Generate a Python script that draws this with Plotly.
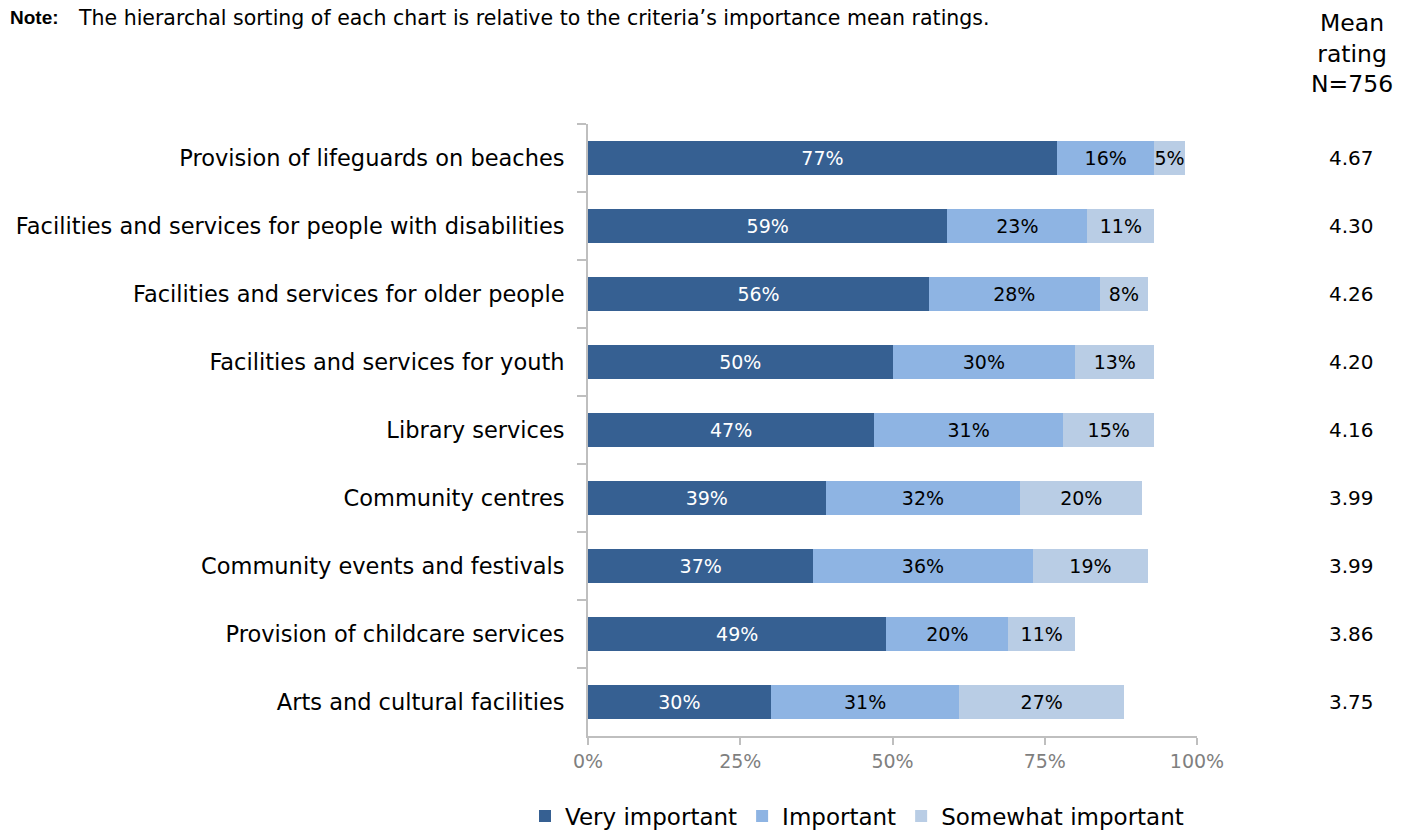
import plotly.graph_objects as go

categories = [
    "Provision of lifeguards on beaches",
    "Facilities and services for people with disabilities",
    "Facilities and services for older people",
    "Facilities and services for youth",
    "Library services",
    "Community centres",
    "Community events and festivals",
    "Provision of childcare services",
    "Arts and cultural facilities",
]
very_important = [77, 59, 56, 50, 47, 39, 37, 49, 30]
important = [16, 23, 28, 30, 31, 32, 36, 20, 31]
somewhat_important = [5, 11, 8, 13, 15, 20, 19, 11, 27]
mean_rating = [4.67, 4.30, 4.26, 4.20, 4.16, 3.99, 3.99, 3.86, 3.75]
x_ticks = [0, 25, 50, 75, 100]

FONT = "DejaVu Sans"
W, H = 1403, 830
L, R, T, B = 588, 206, 124, 94
PW, PH = W - L - R, H - T - B


def px_x(x):
    return (x - L) / PW


def px_y(y):
    return (H - B - y) / PH


series = [
    ("Very important", very_important, "#366092", "white"),
    ("Important", important, "#8EB4E3", "black"),
    ("Somewhat important", somewhat_important, "#B9CDE5", "black"),
]

fig = go.Figure()
for name, vals, color, tcolor in series:
    fig.add_trace(go.Bar(
        name=name,
        y=categories,
        x=vals,
        orientation="h",
        marker=dict(color=color, line=dict(width=0)),
        text=[f"{v}%" for v in vals],
        textposition="inside",
        insidetextanchor="middle",
        textangle=0,
        textfont=dict(family=FONT, size=19, color=tcolor),
        constraintext="none",
        cliponaxis=False,
    ))

# Mean rating column on the right
for cat, m in zip(categories, mean_rating):
    fig.add_annotation(
        x=px_x(1351), xref="paper", y=cat, yref="y",
        text=f"{m:.2f}", showarrow=False,
        font=dict(family=FONT, size=20, color="black"),
        xanchor="center", yanchor="middle",
    )

fig.add_annotation(
    x=px_x(1352), xref="paper", y=px_y(54), yref="paper",
    text="Mean<br>rating<br>N=756", showarrow=False, align="center",
    font=dict(family=FONT, size=23.5, color="black"),
    xanchor="center", yanchor="middle",
)

fig.add_annotation(
    x=px_x(8), xref="paper", y=px_y(18), yref="paper",
    text="<b>Note:</b>", showarrow=False,
    font=dict(family="Liberation Sans", size=19, color="black"),
    xanchor="left", yanchor="middle",
)
fig.add_annotation(
    x=px_x(76), xref="paper", y=px_y(18), yref="paper",
    text="The hierarchal sorting of each chart is relative to the criteria\u2019s importance mean ratings.",
    showarrow=False,
    font=dict(family=FONT, size=20.5, color="black"),
    xanchor="left", yanchor="middle",
)

fig.update_layout(
    width=W, height=H,
    margin=dict(l=L, r=R, t=T, b=B, autoexpand=False),
    barmode="stack",
    bargap=0.5,
    plot_bgcolor="white",
    paper_bgcolor="white",
    font=dict(family=FONT, color="black"),
    uniformtext=dict(mode=False),
    legend=dict(
        orientation="h", x=px_x(525), xanchor="left",
        y=px_y(816), yanchor="middle",
        font=dict(family=FONT, size=23, color="black"),
        traceorder="normal", itemwidth=30,
    ),
    showlegend=True,
)
fig.update_xaxes(
    range=[0, 100], tickvals=x_ticks, ticktext=[f"{v}%" for v in x_ticks],
    showgrid=False, zeroline=False,
    showline=True, linecolor="#BFBFBF", linewidth=2,
    ticks="outside", ticklen=7, tickcolor="#BFBFBF", tickwidth=2,
    tickfont=dict(family=FONT, size=19, color="#7F7F7F"),
    automargin=False,
)
fig.update_yaxes(
    autorange="reversed",
    showgrid=False, zeroline=False,
    showline=True, linecolor="#BFBFBF", linewidth=2,
    ticks="outside", ticklen=9, tickcolor="#BFBFBF", tickwidth=2,
    tickson="boundaries",
    ticklabelstandoff=17,
    tickfont=dict(family=FONT, size=22.5, color="black"),
    automargin=False,
)

fig.write_html("out.html")
